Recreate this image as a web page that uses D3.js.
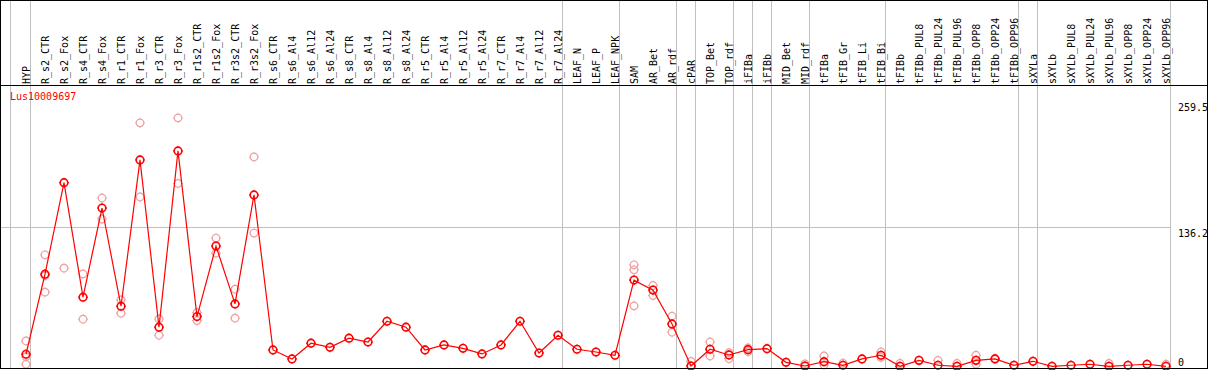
<!DOCTYPE html>
<html>
<head>
<meta charset="utf-8">
<script src="https://cdn.jsdelivr.net/npm/d3@7"></script>
<style>
  body { margin: 0; background: #fff; }
  svg text { font-family: "DejaVu Sans Mono", monospace; font-size: 10px; }
</style>
</head>
<body>
<div id="my_dataviz"></div>
<script>
// chart data
var geneName = "Lus10009697";

var categories = ["HYP", "R_s2_CTR", "R_s2_Fox", "R_s4_CTR", "R_s4_Fox", "R_r1_CTR", "R_r1_Fox",
  "R_r3_CTR", "R_r3_Fox", "R_r1s2_CTR", "R_r1s2_Fox", "R_r3s2_CTR", "R_r3s2_Fox",
  "R_s6_CTR", "R_s6_Al4", "R_s6_Al12", "R_s6_Al24", "R_s8_CTR", "R_s8_Al4", "R_s8_Al12", "R_s8_Al24",
  "R_r5_CTR", "R_r5_Al4", "R_r5_Al12", "R_r5_Al24", "R_r7_CTR", "R_r7_Al4", "R_r7_Al12", "R_r7_Al24",
  "LEAF_N", "LEAF_P", "LEAF_NPK", "SAM", "AR_Bet", "AR_rdf", "cPAR", "TOP_Bet", "TOP_rdf",
  "iFIBa", "iFIBb", "MID_Bet", "MID_rdf", "tFIBa", "tFIB_Gr", "tFIB_Li", "tFIB_Bi", "tFIBb",
  "tFIBb_PUL8", "tFIBb_PUL24", "tFIBb_PUL96", "tFIBb_OPP8", "tFIBb_OPP24", "tFIBb_OPP96",
  "sXYLa", "sXYLb", "sXYLb_PUL8", "sXYLb_PUL24", "sXYLb_PUL96", "sXYLb_OPP8", "sXYLb_OPP24", "sXYLb_OPP96"];

var meanValues = [12.0, 90.4, 180.0, 67.9, 155.2, 59.0, 202.3, 38.5, 211.1, 48.9, 117.9, 61.3, 168.0,
  16.2, 7.4, 22.8, 18.8, 27.7, 24.0, 44.3, 38.5, 16.2, 21.1, 17.8, 12.3, 21.1, 44.3, 13.2, 30.6,
  16.9, 14.2, 11.0, 84.6, 74.8, 41.7, 0.5, 16.9, 11.3, 16.5, 17.5, 4.1, 0.5, 4.7, 1.2, 7.4, 11.0,
  0.2, 6.0, 1.2, 0.2, 6.0, 7.4, 1.2, 5.1, 0.2, 1.2, 2.2, 0.2, 1.2, 2.2, 0.2];

// replicate values (pale circles), one list per category
var replicateValues = [[25, 9.6, 2.2], [109.4, 72.8, 89], [96.3], [90.7, 46.3], [165, 144.4],
  [65.2, 52.2], [238.6, 166], [46.6, 30.6], [243.5, 179.3], [52.8, 45], [125.8, 111],
  [75.7, 47.3], [205.2, 130.7],
  [], [], [], [], [], [], [], [], [], [], [], [], [], [], [], [],
  [], [], [], [99.6, 94.7, 59.4], [79.3, 69.5], [49.2, 33.6], [5], [24, 10.3], [13.5, 7.7],
  [18.1, 14.5], [], [], [2.5], [10.3, 1.5], [3.4], [], [14.2, 9], [3.1],
  [], [6], [3.1], [11, 2.2], [8], [],
  [], [], [], [], [3], [], [], [2.2]];

var yTicks = [0, 136.2, 259.5];
var yTickLabels = ["0", "136.2", "259.5"];

// last category of each group, a grey separator goes right after it
var groupEnds = [0, 28, 31, 34, 35, 37, 38, 39, 41, 45, 52, 53, 60];

var width = 1209, height = 370;

var svg = d3.select("#my_dataviz")
  .append("svg")
  .attr("width", width)
  .attr("height", height);

var x = d3.scalePoint()
  .domain(categories)
  .range([26, 1166]);

var y = d3.scaleLinear()
  .domain([0, 259.5])
  .range([366.5, 101.5]);

// grey grid
svg.append("line")
  .attr("x1", x(categories[0]) - 15.5).attr("x2", x(categories[0]) - 15.5)
  .attr("y1", 0).attr("y2", 369)
  .attr("stroke", "#c0c0c0");

svg.selectAll(".vsep")
  .data(groupEnds)
  .enter()
  .append("line")
  .attr("class", "vsep")
  .attr("x1", function(d) { return x(categories[d]) + 4.5; })
  .attr("x2", function(d) { return x(categories[d]) + 4.5; })
  .attr("y1", 0).attr("y2", 369)
  .attr("stroke", "#c0c0c0");

svg.append("line")
  .attr("x1", 0).attr("x2", x(categories[60]) + 4.5)
  .attr("y1", Math.round(y(136.2)) + 0.5).attr("y2", Math.round(y(136.2)) + 0.5)
  .attr("stroke", "#c0c0c0");

// column labels, rotated
svg.selectAll(".col-label")
  .data(categories)
  .enter()
  .append("text")
  .attr("class", "col-label")
  .attr("transform", function(d) { return "translate(" + (x(d) + 3.5) + ",84)rotate(-90)"; })
  .attr("fill", "#000")
  .text(function(d) { return d; });

// y tick labels on the right
svg.selectAll(".y-label")
  .data(yTicks)
  .enter()
  .append("text")
  .attr("class", "y-label")
  .attr("x", 1178)
  .attr("y", function(d) { return d === 0 ? y(d) - 0.5 : y(d) + 9.5; })
  .attr("fill", "#000")
  .text(function(d, i) { return yTickLabels[i]; });

svg.append("text")
  .attr("x", 10)
  .attr("y", 100)
  .attr("fill", "#ff0000")
  .text(geneName);

// replicates
var reps = [];
replicateValues.forEach(function(list, i) {
  list.forEach(function(v) { reps.push({cat: categories[i], value: v}); });
});

function marker(sel, color, sw) {
  sel.append("circle")
    .attr("r", 3.8)
    .attr("fill", "none")
    .attr("stroke", color)
    .attr("stroke-width", sw);
  sel.append("path")
    .attr("d", "M0,-5V-4M0,4V5M-5,0H-4M4,0H5")
    .attr("stroke", color)
    .attr("stroke-width", 1);
}

svg.selectAll(".rep")
  .data(reps)
  .enter()
  .append("g")
  .attr("class", "rep")
  .attr("transform", function(d) { return "translate(" + x(d.cat) + "," + y(d.value) + ")"; })
  .call(marker, "#f0a0a0", 1.2);

var line = d3.line()
  .x(function(d, i) { return x(categories[i]); })
  .y(function(d) { return y(d); });

svg.append("path")
  .datum(meanValues)
  .attr("d", line)
  .attr("fill", "none")
  .attr("stroke", "#ff0000")
  .attr("stroke-width", 1.2);

svg.selectAll(".mean")
  .data(meanValues)
  .enter()
  .append("g")
  .attr("class", "mean")
  .attr("transform", function(d, i) { return "translate(" + x(categories[i]) + "," + y(d) + ")"; })
  .call(marker, "#ff0000", 1.6);

// frame
svg.append("rect")
  .attr("x", 0.5).attr("y", 0.5)
  .attr("width", 1207).attr("height", 368)
  .attr("fill", "none")
  .attr("stroke", "#000");

svg.append("line")
  .attr("x1", 0).attr("x2", 1208)
  .attr("y1", 85.5).attr("y2", 85.5)
  .attr("stroke", "#000");
</script>
</body>
</html>
